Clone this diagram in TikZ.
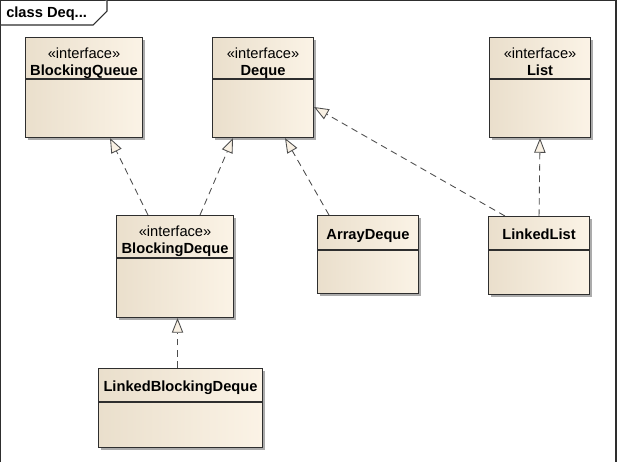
\documentclass[tikz,border=0pt]{standalone}
\usepackage{fontspec}
\setmainfont{Liberation Sans}
\usetikzlibrary{arrows.meta,shadows}

\definecolor{boxL}{HTML}{EADFCC}
\definecolor{boxR}{HTML}{FBF3E6}
\definecolor{edgecol}{HTML}{2E2E2E}
\definecolor{tipfill}{HTML}{F9F1E4}
\newcommand\upx{0.75pt}

\tikzset{
  cls/.style={draw=edgecol, line width=0.8pt, left color=boxL, right color=boxR,
    drop shadow={shadow xshift=2.5*\upx, shadow yshift=-2.5*\upx, fill=black!60, opacity=0.55},
    anchor=north west, inner sep=0pt},
  divl/.style={draw=edgecol, line width=0.8pt},
  stereo/.style={font=\fontsize{11}{13}\selectfont, anchor=base, inner sep=0pt},
  cname/.style={font=\fontsize{11}{13}\selectfont\bfseries, anchor=base, inner sep=0pt},
  impl/.style={color=edgecol!85, line width=0.65pt, dash pattern=on 5pt off 3.5pt,
    -{Triangle[length=11pt, width=8.5pt, fill=tipfill, line width=0.65pt]}},
  frame/.style={draw=edgecol, line width=0.8pt}
}

\begin{document}
\begin{tikzpicture}[x=0.75pt, y=-0.75pt]
  \useasboundingbox (0,0) rectangle (618,462);
  % diagram frame and title tab
  \draw[frame] (0.5,462) -- (0.5,0.5) -- (616,0.5) -- (616,462);
  \draw[frame, fill=white] (0.5,25) -- (93,25) -- (107,11) -- (107,0.5);
  \node[cname, anchor=base west] (title) at (6,17) {class Deq...};

  % interfaces
  \node[cls, minimum width=117*\upx, minimum height=100*\upx] (bq) at (25,37) {};
  \draw[divl] ([yshift=-42*\upx]bq.north west) -- ([yshift=-42*\upx]bq.north east);
  \node[stereo] (bq-s) at ([yshift=-21*\upx]bq.north) {«interface»};
  \node[cname] (bq-n) at ([yshift=-38*\upx]bq.north) {BlockingQueue};

  \node[cls, minimum width=101*\upx, minimum height=100*\upx] (dq) at (212,37) {};
  \draw[divl] ([yshift=-42*\upx]dq.north west) -- ([yshift=-42*\upx]dq.north east);
  \node[stereo] (dq-s) at ([yshift=-21*\upx]dq.north) {«interface»};
  \node[cname] (dq-n) at ([yshift=-38*\upx]dq.north) {Deque};

  \node[cls, minimum width=101*\upx, minimum height=100*\upx] (lst) at (489,37) {};
  \draw[divl] ([yshift=-42*\upx]lst.north west) -- ([yshift=-42*\upx]lst.north east);
  \node[stereo] (lst-s) at ([yshift=-21*\upx]lst.north) {«interface»};
  \node[cname] (lst-n) at ([yshift=-38*\upx]lst.north) {List};

  \node[cls, minimum width=117*\upx, minimum height=102*\upx] (bd) at (116,215) {};
  \draw[divl] ([yshift=-43*\upx]bd.north west) -- ([yshift=-43*\upx]bd.north east);
  \node[stereo] (bd-s) at ([yshift=-21*\upx]bd.north) {«interface»};
  \node[cname] (bd-n) at ([yshift=-38*\upx]bd.north) {BlockingDeque};

  % classes
  \node[cls, minimum width=101*\upx, minimum height=78*\upx] (ad) at (317,215) {};
  \draw[divl] ([yshift=-35*\upx]ad.north west) -- ([yshift=-35*\upx]ad.north east);
  \node[cname] (ad-n) at ([yshift=-24*\upx]ad.north) {ArrayDeque};

  \node[cls, minimum width=101*\upx, minimum height=78*\upx] (ll) at (488,216) {};
  \draw[divl] ([yshift=-34*\upx]ll.north west) -- ([yshift=-34*\upx]ll.north east);
  \node[cname] (ll-n) at ([yshift=-23*\upx]ll.north) {LinkedList};

  \node[cls, minimum width=164*\upx, minimum height=79*\upx] (lbd) at (98,368) {};
  \draw[divl] ([yshift=-34*\upx]lbd.north west) -- ([yshift=-34*\upx]lbd.north east);
  \node[cname] (lbd-n) at ([yshift=-23*\upx]lbd.north) {LinkedBlockingDeque};

  % realizations
  \path[impl]
    ([xshift=32*\upx]bd.north west) edge ([xshift=85*\upx]bq.south west)
    ([xshift=84*\upx]bd.north west) edge ([xshift=21*\upx]dq.south west)
    ([xshift=12*\upx]ad.north west) edge ([xshift=73*\upx]dq.south west)
    ([xshift=17*\upx]ll.north west) edge ([yshift=-70*\upx]dq.north east)
    (ll.north) edge (lst.south)
    ([xshift=-3*\upx]lbd.north) edge ([xshift=2.5*\upx]bd.south);
\end{tikzpicture}
\end{document}
